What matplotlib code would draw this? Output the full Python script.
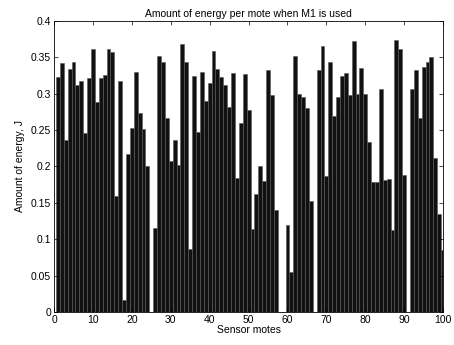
import numpy as np
import matplotlib.pyplot as plt

# energy spent by each sensor mote (J), motes 1..100
motes = np.arange(1, 101)
energy = [
    0.323, 0.342, 0.236, 0.334, 0.344, 0.312, 0.318, 0.246, 0.322, 0.362,
    0.288, 0.321, 0.326, 0.362, 0.357, 0.159, 0.318, 0.016, 0.217, 0.253,
    0.330, 0.274, 0.252, 0.200, 0.000, 0.116, 0.352, 0.343, 0.266, 0.208,
    0.237, 0.202, 0.368, 0.343, 0.086, 0.324, 0.247, 0.330, 0.290, 0.315,
    0.359, 0.334, 0.323, 0.312, 0.282, 0.329, 0.184, 0.260, 0.327, 0.278,
    0.114, 0.162, 0.201, 0.180, 0.332, 0.298, 0.140, 0.000, 0.000, 0.119,
    0.055, 0.352, 0.300, 0.295, 0.280, 0.153, 0.000, 0.333, 0.366, 0.187,
    0.343, 0.269, 0.295, 0.324, 0.328, 0.298, 0.372, 0.300, 0.335, 0.300,
    0.234, 0.179, 0.178, 0.307, 0.182, 0.183, 0.113, 0.374, 0.362, 0.188,
    0.000, 0.307, 0.333, 0.267, 0.337, 0.344, 0.350, 0.211, 0.134, 0.085,
]

plt.rcParams['font.family'] = ['Liberation Sans', 'DejaVu Sans']
plt.rcParams['font.size'] = 7.5

fig = plt.figure(figsize=(4.54, 3.45), dpi=100)
ax = fig.add_axes([0.119, 0.096, 0.857, 0.843])

ax.bar(motes, energy, width=1.0, color='#111111', edgecolor='#5a5a5a', linewidth=0.4)

ax.set_xlim(0, 100)
ax.set_ylim(0, 0.4)
ax.set_xticks(np.arange(0, 101, 10))
ax.set_yticks(np.arange(0, 0.401, 0.05))
ax.set_yticklabels(['0', '0.05', '0.1', '0.15', '0.2', '0.25', '0.3', '0.35', '0.4'])
ax.tick_params(direction='in', top=True, right=True, length=3, width=0.5, pad=2)
for s in ax.spines.values():
    s.set_linewidth(0.6)

ax.set_title('Amount of energy per mote when M1 is used', fontsize=7.5, pad=3)
ax.set_xlabel('Sensor motes', labelpad=0)
ax.set_ylabel('Amount of energy, J', labelpad=4)

fig.savefig('out.png', dpi=100)
